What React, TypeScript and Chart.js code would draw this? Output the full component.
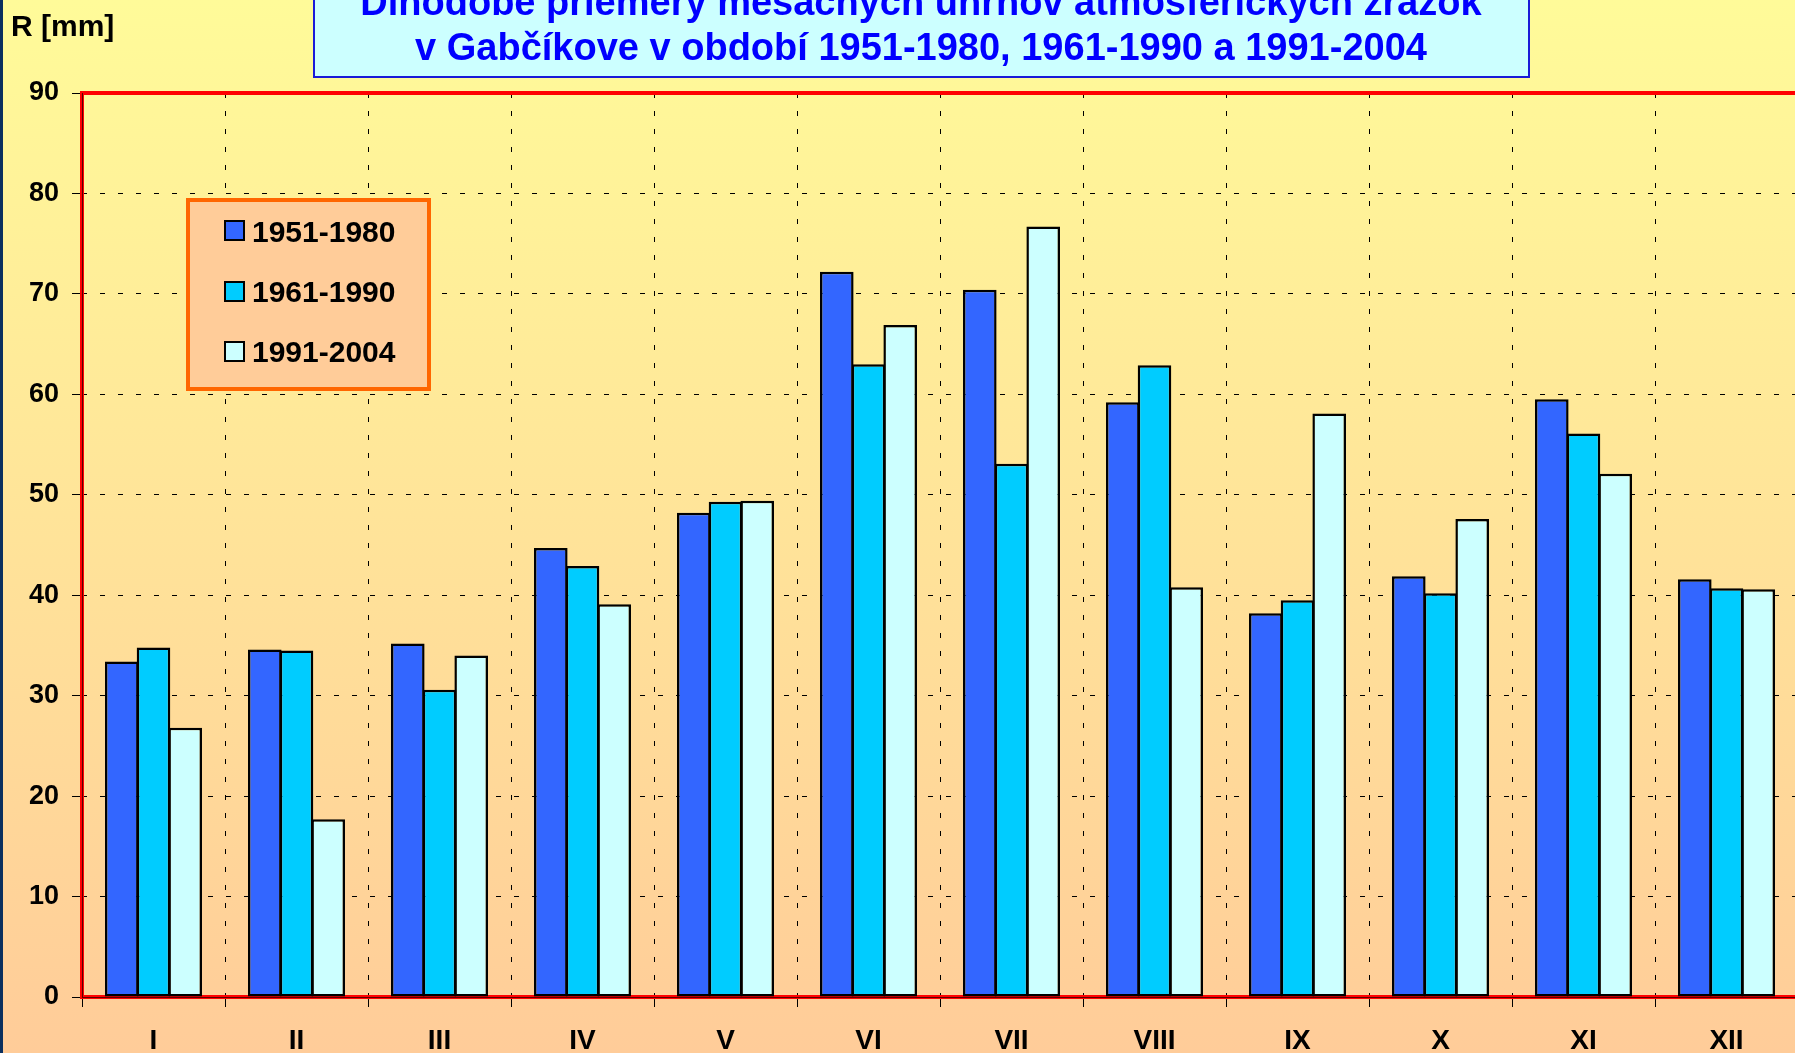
import React, { useEffect, useRef } from "react";
import { Chart, registerables } from "chart.js";

Chart.register(...registerables);

// ---- data ----
const MONTHS = ["I", "II", "III", "IV", "V", "VI", "VII", "VIII", "IX", "X", "XI", "XII"];
const SERIES_LABELS = ["1951-1980", "1961-1990", "1991-2004"];
const R_1951_1980 = [33.4, 34.6, 35.2, 44.7, 48.2, 72.2, 70.4, 59.2, 38.2, 41.9, 59.5, 41.6];
const R_1961_1990 = [34.8, 34.5, 30.6, 42.9, 49.3, 63.0, 53.1, 62.9, 39.5, 40.2, 56.1, 40.7];
const R_1991_2004 = [26.8, 17.7, 34.0, 39.1, 49.4, 66.9, 76.7, 40.8, 58.1, 47.6, 52.1, 40.6];
const SERIES_COLORS = ["#3366FF", "#00CCFF", "#CCFFFF"];
const Y_MIN = 0;
const Y_MAX = 90;
const Y_STEP = 10;
const TITLE_LINES = [
  "Dlhodobé priemery mesačných úhrnov atmosférických zrážok",
  "v Gabčíkove v období 1951-1980, 1961-1990 a 1991-2004",
];
const Y_AXIS_TITLE = "R [mm]";

const FONT = "'Liberation Sans', Arial, Helvetica, sans-serif";

const decorPlugin = {
  id: "decor",
  beforeDatasetsDraw(chart: any) {
    const { ctx, chartArea } = chart;
    const { left, top, right, bottom } = chartArea;
    ctx.save();
    ctx.strokeStyle = "#FF0000";
    ctx.lineWidth = 4;
    ctx.strokeRect(left, top, right - left, bottom - top);
    ctx.strokeStyle = "#5a0000";
    ctx.lineWidth = 1;
    ctx.beginPath();
    ctx.moveTo(left + 0.5, top);
    ctx.lineTo(left + 0.5, bottom);
    ctx.moveTo(left, bottom + 0.5);
    ctx.lineTo(right, bottom + 0.5);
    ctx.stroke();
    ctx.restore();
  },
  afterDraw(chart: any) {
    const { ctx } = chart;
    ctx.save();
    // title box
    ctx.fillStyle = "#CCFFFF";
    ctx.fillRect(313, -20, 1530 - 313, 98);
    ctx.strokeStyle = "#1a1ad8";
    ctx.lineWidth = 2;
    ctx.strokeRect(314, -20, 1530 - 315, 97);
    ctx.fillStyle = "#0000FF";
    ctx.font = `bold 38px ${FONT}`;
    ctx.textAlign = "center";
    ctx.textBaseline = "alphabetic";
    ctx.fillText(TITLE_LINES[0], 921, 15);
    ctx.fillText(TITLE_LINES[1], 921, 60);

    // y axis title
    ctx.fillStyle = "#000";
    ctx.font = `bold 30px ${FONT}`;
    ctx.textAlign = "left";
    ctx.fillText(Y_AXIS_TITLE, 11, 36);

    // legend
    ctx.fillStyle = "#FFCC99";
    ctx.fillRect(188, 200, 241, 189);
    ctx.strokeStyle = "#FF6600";
    ctx.lineWidth = 4;
    ctx.strokeRect(188, 200, 241, 189);
    const swTops = [220, 281, 341];
    const baselines = [242, 302, 362];
    ctx.font = `bold 30px ${FONT}`;
    SERIES_LABELS.forEach((lab, i) => {
      ctx.fillStyle = SERIES_COLORS[i];
      ctx.fillRect(224, swTops[i], 21, 21);
      ctx.strokeStyle = "#000";
      ctx.lineWidth = 2;
      ctx.strokeRect(225, swTops[i] + 1, 19, 19);
      ctx.fillStyle = "#000";
      ctx.fillText(lab, 252, baselines[i]);
    });
    ctx.restore();
  },
};

export default function App() {
  const canvasRef = useRef<HTMLCanvasElement | null>(null);

  useEffect(() => {
    const canvas = canvasRef.current;
    if (!canvas) return;
    Chart.defaults.font.family = FONT;
    const seriesValues = [R_1951_1980, R_1961_1990, R_1991_2004];
    const chart = new Chart(canvas, {
      type: "bar",
      data: {
        labels: MONTHS,
        datasets: SERIES_LABELS.map((label, i) => ({
          label,
          data: seriesValues[i],
          backgroundColor: SERIES_COLORS[i],
          borderColor: "#000",
          borderWidth: 2.5,
          borderSkipped: false,
          categoryPercentage: 0.665,
          barPercentage: 1.06,
        })),
      },
      options: {
        responsive: false,
        animation: false,
        devicePixelRatio: 1,
        layout: { padding: { top: 93, right: 12, left: 0, bottom: 0 } },
        plugins: {
          legend: { display: false },
          title: { display: false },
          tooltip: { enabled: false },
        },
        scales: {
          x: {
            offset: true,
            grid: {
              offset: true,
              color: "#000",
              lineWidth: 1,
              drawTicks: true,
              tickLength: 10,
              tickColor: "#000",
              tickWidth: 1,
            },
            border: { display: false, dash: [5, 13] },
            ticks: {
              color: "#000",
              font: { family: FONT, size: 28, weight: "bold" },
              padding: 17,
              maxRotation: 0,
              autoSkip: false,
            },
            afterFit: (s: any) => {
              s.height = 1053 - 997;
            },
          },
          y: {
            min: Y_MIN,
            max: Y_MAX,
            ticks: {
              stepSize: Y_STEP,
              color: "#000",
              font: { family: FONT, size: 27, weight: "bold" },
              padding: 13,
            },
            grid: {
              color: "#000",
              lineWidth: 1,
              drawTicks: true,
              tickLength: 10,
              tickColor: "#000",
              tickWidth: 1,
            },
            border: { display: false, dash: [5, 13] },
            afterFit: (s: any) => {
              s.width = 82;
            },
          },
        },
      } as any,
      plugins: [decorPlugin],
    });
    return () => chart.destroy();
  }, []);

  return (
    <div
      style={{
        position: "fixed",
        left: 0,
        top: 0,
        width: 1795,
        height: 1053,
        overflow: "hidden",
        background: "linear-gradient(to bottom, #FFFB99 0%, #FFCC99 100%)",
      }}
    >
      <canvas
        ref={canvasRef}
        width={1810}
        height={1053}
        style={{ position: "absolute", left: 0, top: 0, width: 1810, height: 1053 }}
      />
      <div
        style={{
          position: "absolute",
          left: 0,
          top: 0,
          width: 3,
          height: 1053,
          background: "#0B2F5E",
        }}
      />
    </div>
  );
}
